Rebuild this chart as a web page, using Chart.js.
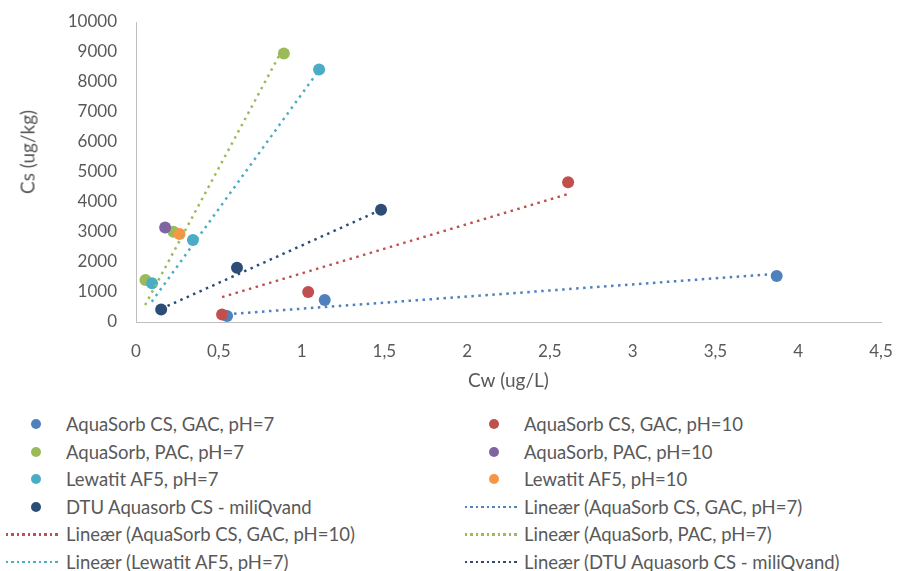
<!DOCTYPE html>
<html>
<head>
<meta charset="utf-8">
<script src="https://cdn.jsdelivr.net/npm/chart.js@4"></script>
<style>
    body { margin: 0; background: #fff; }
    #wrap { position: relative; width: 898px; height: 571px; overflow: hidden; font-family: Lato, sans-serif; color: #595959; }
    #chart-box { position: absolute; left: 0; top: 0; width: 898px; height: 400px; }
    #y-title { position: absolute; left: 27px; top: 152px; transform: translate(-50%, -50%) rotate(-90deg); font-size: 19px; white-space: nowrap; }
    .legend-item { position: absolute; display: flex; align-items: center; font-size: 18.5px; white-space: nowrap; transform: translateY(-50%); }
    .legend-marker { position: relative; height: 12px; }
    .legend-dot { position: absolute; top: 1px; width: 10px; height: 10px; border-radius: 50%; }
    .legend-line { position: absolute; top: 5px; height: 2.5px; }
</style>
</head>
<body>
<div id="wrap">
    <div id="chart-box"><canvas id="iso-chart"></canvas></div>
    <div id="y-title">Cs (ug/kg)</div>
    <div id="legend"></div>
</div>
<script>
// Målte punkter (Cw i ug/L, Cs i ug/kg)
const gacPh7 = [{ x: 0.55, y: 200 }, { x: 1.14, y: 730 }, { x: 3.87, y: 1530 }];
const gacPh10 = [{ x: 0.52, y: 250 }, { x: 1.04, y: 1000 }, { x: 2.61, y: 4660 }];
const pacPh7 = [{ x: 0.057, y: 1400 }, { x: 0.226, y: 3010 }, { x: 0.893, y: 8950 }];
const pacPh10 = [{ x: 0.176, y: 3150 }];
const lewatitPh7 = [{ x: 0.097, y: 1290 }, { x: 0.344, y: 2730 }, { x: 1.106, y: 8420 }];
const lewatitPh10 = [{ x: 0.263, y: 2930 }];
const dtuMiliQ = [{ x: 0.152, y: 420 }, { x: 0.61, y: 1810 }, { x: 1.48, y: 3740 }];

// Lineære tendenslinjer (endepunkter aflæst)
const trendGacPh7 = [{ x: 0.55, y: 260 }, { x: 3.87, y: 1607 }];
const trendGacPh10 = [{ x: 0.52, y: 830 }, { x: 2.61, y: 4266 }];
const trendPacPh7 = [{ x: 0.055, y: 567 }, { x: 0.893, y: 9170 }];
const trendLewatitPh7 = [{ x: 0.095, y: 677 }, { x: 1.106, y: 8400 }];
const trendDtu = [{ x: 0.152, y: 440 }, { x: 1.48, y: 3740 }];

const xTicks = [0, 0.5, 1, 1.5, 2, 2.5, 3, 3.5, 4, 4.5];
const yTicks = [0, 1000, 2000, 3000, 4000, 5000, 6000, 7000, 8000, 9000, 10000];

const colors = {
    blue: '#4F81BD',
    red: '#C0504D',
    green: '#9BBB59',
    purple: '#8064A2',
    aqua: '#4BACC6',
    orange: '#F79646',
    navy: '#2C4D75'
};

const textColor = '#595959';
const axisColor = '#BFBFBF';

function pointSet(label, data, color, order) {
    return {
        label: label,
        data: data,
        backgroundColor: color,
        borderColor: color,
        pointRadius: 6,
        pointHoverRadius: 6,
        borderWidth: 0,
        order: order
    };
}

function trendSet(label, data, color, order) {
    return {
        label: label,
        data: data,
        showLine: true,
        borderColor: color,
        backgroundColor: color,
        borderWidth: 2.5,
        borderDash: [2.5, 4.5],
        pointRadius: 0,
        pointHoverRadius: 0,
        fill: false,
        order: order,
        isTrend: true
    };
}

const datasets = [
    pointSet('AquaSorb CS, GAC, pH=7', gacPh7, colors.blue, 12),
    pointSet('AquaSorb CS, GAC, pH=10', gacPh10, colors.red, 11),
    pointSet('AquaSorb, PAC, pH=7', pacPh7, colors.green, 10),
    pointSet('AquaSorb, PAC, pH=10', pacPh10, colors.purple, 9),
    pointSet('Lewatit AF5, pH=7', lewatitPh7, colors.aqua, 8),
    pointSet('Lewatit AF5, pH=10', lewatitPh10, colors.orange, 7),
    pointSet('DTU Aquasorb CS - miliQvand', dtuMiliQ, colors.navy, 6),
    trendSet('Lineær (AquaSorb CS, GAC, pH=7)', trendGacPh7, colors.blue, 5),
    trendSet('Lineær (AquaSorb CS, GAC, pH=10)', trendGacPh10, colors.red, 4),
    trendSet('Lineær (AquaSorb, PAC, pH=7)', trendPacPh7, colors.green, 3),
    trendSet('Lineær (Lewatit AF5, pH=7)', trendLewatitPh7, colors.aqua, 2),
    trendSet('Lineær (DTU Aquasorb CS - miliQvand)', trendDtu, colors.navy, 1)
];

const ctx = document.getElementById('iso-chart').getContext('2d');
const chart = new Chart(ctx, {
    type: 'scatter',
    data: { datasets: datasets },
    options: {
        responsive: true,
        maintainAspectRatio: false,
        animation: false,
        layout: { padding: { left: 0, top: 22, right: 17, bottom: 0 } },
        plugins: {
            legend: { display: false },
            tooltip: { enabled: false }
        },
        scales: {
            x: {
                type: 'linear',
                min: 0,
                max: 4.5,
                afterBuildTicks: (scale) => { scale.ticks = xTicks.map(v => ({ value: v })); },
                afterFit: (scale) => {
                    scale.height = 78;
                    scale.paddingLeft = 0;
                    scale.paddingRight = 0;
                },
                grid: { display: false, drawTicks: false },
                border: { display: true, color: axisColor, width: 1 },
                ticks: {
                    color: textColor,
                    padding: 19,
                    font: { family: 'Lato', size: 17 },
                    callback: (v) => String(v).replace('.', ',')
                },
                title: {
                    display: true,
                    text: 'Cw (ug/L)',
                    color: textColor,
                    font: { family: 'Lato', size: 19 },
                    padding: { top: 0, bottom: 8 }
                }
            },
            y: {
                type: 'linear',
                min: 0,
                max: 10000,
                afterBuildTicks: (scale) => { scale.ticks = yTicks.map(v => ({ value: v })); },
                afterFit: (scale) => {
                    scale.width = 136;
                    scale.paddingTop = 0;
                    scale.paddingBottom = 0;
                },
                grid: { display: false, drawTicks: false },
                border: { display: true, color: axisColor, width: 1 },
                ticks: {
                    color: textColor,
                    padding: 19,
                    font: { family: 'Lato', size: 17 },
                    callback: (v) => String(v)
                }
            }
        }
    }
});

// Legende i to kolonner som i Excel
const legendRows = [424, 451.5, 479, 506.5, 534, 561.5];
const legendCols = [
    { markerLeft: 6, markerWidth: 55, textLeft: 66 },
    { markerLeft: 465, markerWidth: 53, textLeft: 524 }
];
const legendEl = document.getElementById('legend');

chart.data.datasets.forEach((ds, i) => {
    const col = legendCols[i % 2];
    const row = legendRows[Math.floor(i / 2)];
    const item = document.createElement('div');
    item.className = 'legend-item';
    item.style.left = col.markerLeft + 'px';
    item.style.top = row + 'px';

    const marker = document.createElement('span');
    marker.className = 'legend-marker';
    marker.style.width = (col.textLeft - col.markerLeft) + 'px';
    if (ds.isTrend) {
        const line = document.createElement('span');
        line.className = 'legend-line';
        line.style.left = '0px';
        line.style.width = col.markerWidth + 'px';
        line.style.background = `repeating-linear-gradient(to right, ${ds.borderColor} 0 2.5px, transparent 2.5px 5.5px)`;
        marker.appendChild(line);
    } else {
        const dot = document.createElement('span');
        dot.className = 'legend-dot';
        dot.style.left = (col.markerWidth / 2 + 2 - 5) + 'px';
        dot.style.background = ds.backgroundColor;
        marker.appendChild(dot);
    }

    const text = document.createElement('span');
    text.textContent = ds.label;

    item.appendChild(marker);
    item.appendChild(text);
    legendEl.appendChild(item);
});
</script>
</body>
</html>
